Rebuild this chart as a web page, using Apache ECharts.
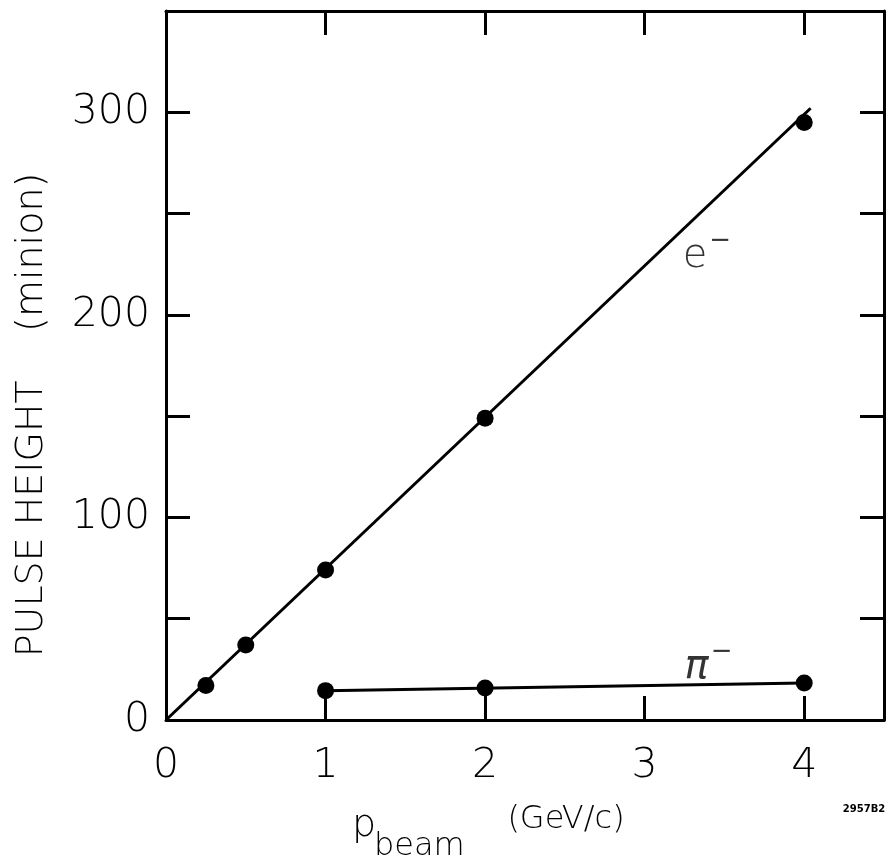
<!DOCTYPE html>
<html>
<head>
<meta charset="utf-8">
<script src="https://cdn.jsdelivr.net/npm/echarts@6/dist/echarts.min.js"></script>
<style>
  html, body { margin: 0; padding: 0; background: #fff; }
  #chart { width: 887px; height: 868px; }
</style>
</head>
<body>
<div id="chart"></div>
<script>
// electrons: measured points and fitted line
var eMomentum = [0.25, 0.5, 1, 2, 4];
var eHeight = [17, 37, 74, 149, 295];
var eFit = [[0, 0], [4.04, 302]];

// pions
var piMomentum = [1, 2, 4];
var piHeight = [14.5, 15.8, 18.3];
var piFit = [[1, 14.5], [4, 18.3]];

// curve labels
var curveLabels = [
    {name: 'e', pos: [3.39, 229]},
    {name: 'pi', pos: [3.4, 26]}
];

var FONT = 'DejaVu Sans';

function pairs(xs, ys){
    var out = [];
    for(var i = 0; i < xs.length; i ++){
        out.push([xs[i], ys[i]]);
    }
    return out;
}

var axisLine = { onZero: false, lineStyle: { color: '#000', width: 3 } };
var axisTick = { inside: true, length: 24, lineStyle: { color: '#000', width: 3 } };
var tickFont = { color: '#000', fontFamily: FONT, fontSize: 41, fontWeight: 200 };

var myChart = echarts.init(document.getElementById('chart'));
var option = {
    backgroundColor: '#fff',
    animation: false,
    grid: { left: 166, top: 11, right: 2, bottom: 148 },
    xAxis: [{
        type: 'value', min: 0, max: 4.5, interval: 1, position: 'bottom',
        axisLine: axisLine, axisTick: axisTick, splitLine: { show: false },
        axisLabel: Object.assign({
            margin: 26,
            formatter: function (v) { return v % 1 === 0 ? v : ''; }
        }, tickFont)
    }, {
        type: 'value', min: 0, max: 4.5, interval: 1, position: 'top',
        axisLine: axisLine, axisTick: axisTick, splitLine: { show: false },
        axisLabel: { show: false }
    }],
    yAxis: [{
        type: 'value', min: 0, max: 350, interval: 50, position: 'left',
        axisLine: axisLine, axisTick: axisTick, splitLine: { show: false },
        axisLabel: Object.assign({
            margin: 16,
            formatter: function (v) { return v % 100 === 0 ? v : ''; }
        }, tickFont)
    }, {
        type: 'value', min: 0, max: 350, interval: 50, position: 'right',
        axisLine: axisLine, axisTick: axisTick, splitLine: { show: false },
        axisLabel: { show: false }
    }],
    series: [{
        type: 'line', data: eFit, showSymbol: false,
        lineStyle: { color: '#000', width: 3 }
    }, {
        type: 'scatter', data: pairs(eMomentum, eHeight), symbolSize: 17,
        itemStyle: { color: '#000', opacity: 1 }
    }, {
        type: 'line', data: piFit, showSymbol: false,
        lineStyle: { color: '#000', width: 3 }
    }, {
        type: 'scatter', data: pairs(piMomentum, piHeight), symbolSize: 17,
        itemStyle: { color: '#000', opacity: 1 }
    }, {
        type: 'scatter', symbolSize: 0,
        data: curveLabels.map(function (d) { return { name: d.name, value: d.pos }; }),
        label: {
            show: true, position: 'inside', color: '#000',
            formatter: function (p) {
                return p.name === 'e' ? '{b|e}{s|−}' : '{i|π}{s|−}';
            },
            rich: {
                b: { fontFamily: FONT, fontSize: 40, fontWeight: 200, color: '#000' },
                i: { fontFamily: FONT, fontSize: 40, fontStyle: 'italic', color: '#000' },
                s: { fontFamily: FONT, fontSize: 26, color: '#000', padding: [0, 0, 30, 2] }
            }
        }
    }],
    graphic: [{
        type: 'text', x: 32, y: 415, rotation: Math.PI / 2,
        style: {
            text: 'PULSE HEIGHT    (minion)', fill: '#000',
            font: '200 38px "DejaVu Sans"', align: 'center', verticalAlign: 'middle'
        }
    }, {
        type: 'text', x: 352, y: 826,
        style: {
            text: 'p', fill: '#000', font: '200 38px "DejaVu Sans"',
            align: 'left', verticalAlign: 'middle'
        }
    }, {
        type: 'text', x: 374, y: 847,
        style: {
            text: 'beam', fill: '#000', font: '200 32px "DejaVu Sans"',
            align: 'left', verticalAlign: 'middle'
        }
    }, {
        type: 'text', x: 566, y: 820,
        style: {
            text: '(GeV/c)', fill: '#000', font: '200 32px "DejaVu Sans"',
            align: 'center', verticalAlign: 'middle'
        }
    }, {
        type: 'text', x: 864, y: 809,
        style: {
            text: '2957B2', fill: '#000', font: 'bold 10px "DejaVu Sans"',
            align: 'center', verticalAlign: 'middle'
        }
    }]
};
myChart.setOption(option);
</script>
</body>
</html>
